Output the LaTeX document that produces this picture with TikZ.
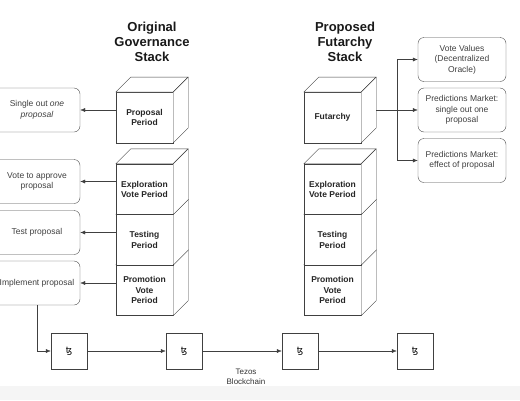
\documentclass[tikz,border=0pt]{standalone}
\usepackage{fontspec}
\setmainfont{Liberation Sans}
\newfontfamily\tezfont{DejaVu Sans}
\usetikzlibrary{positioning, arrows.meta, calc}

\begin{document}
\begin{tikzpicture}[
    x=1pt, y=-1pt,
    govbox/.style={draw=black!70, rounded corners=6pt, fill=white, align=center,
        minimum width=86pt, minimum height=44pt, inner sep=1pt,
        text=black!75, font=\fontsize{8.5}{10.5}\selectfont},
    cubefront/.style={draw=black!75, fill=white, align=center,
        minimum width=57pt, minimum height=50.5pt, inner sep=0pt,
        text=black!85, font=\fontsize{8.5}{10.5}\selectfont\bfseries},
    cubeface/.style={draw=black!75, fill=white, line join=round},
    chainblock/.style={draw=black!75, fill=white, minimum size=36pt, inner sep=0pt,
        font=\tezfont\fontsize{9}{10}\selectfont},
    stacktitle/.style={align=center, font=\fontsize{13}{15}\selectfont\bfseries, text=black!90},
    link/.style={draw=black!75, -{Latex[length=5pt, width=4pt]}}
]

\useasboundingbox (0,0) rectangle (520,400);
\fill[black!4] (0,386) rectangle (520,400);

% stack titles
\node[stacktitle] (origtitle) at (152,42) {Original\\Governance\\Stack};
\node[stacktitle] (futtitle) at (345,42) {Proposed\\Futarchy\\Stack};

% cubes: bottom one first so the upper front covers the lower top face
\foreach \n/\cx/\cy/\txt in {
    prom/144.5/290.25/{Promotion\\Vote\\Period},
    test/144.5/239.75/{Testing\\Period},
    expl/144.5/189.25/{Exploration\\Vote Period},
    prop/144.5/117.5/{Proposal\\Period},
    fprom/332.5/290.25/{Promotion\\Vote\\Period},
    ftest/332.5/239.75/{Testing\\Period},
    fexpl/332.5/189.25/{Exploration\\Vote Period},
    fut/332.5/117.5/{Futarchy}} {
    \node[cubefront] (\n) at (\cx,\cy) {\txt};
    \draw[cubeface] (\n.north west) -- ++(15,-15) -- ([shift={(15,-15)}]\n.north east)
        -- (\n.north east) -- cycle;
    \draw[cubeface] (\n.north east) -- ++(15,-15) -- ([shift={(15,-15)}]\n.south east)
        -- (\n.south east) -- cycle;
}

% what each period does
\node[govbox] (single) at (37,110) {Single out \textit{one}\\\textit{proposal}};
\node[govbox] (approve) at (37,181.5) {Vote to approve\\proposal};
\node[govbox] (testp) at (37,232.5) {Test proposal};
\node[govbox] (impl) at (37,283) {Implement proposal};

\draw[link] (prop.west |- single.east) -- (single.east);
\draw[link] (expl.west |- approve.east) -- (approve.east);
\draw[link] (test.west |- testp.east) -- (testp.east);
\draw[link] (prom.west |- impl.east) -- (impl.east);

% futarchy outputs
\node[govbox, minimum width=88pt] (votes) at (462,59.5) {Vote Values\\(Decentralized\\Oracle)};
\node[govbox, minimum width=88pt] (pmone) at (462,110) {Predictions Market:\\single out one\\proposal};
\node[govbox, minimum width=88pt] (pmeff) at (462,160.5) {Predictions Market:\\effect of proposal};

\coordinate (fork) at (397,110);
\draw[draw=black!75] ([xshift=15pt]fut.east |- pmone.west) -- (fork);
\draw[link] (fork) -- (pmone.west);
\draw[link] (fork) |- (votes.west);
\draw[link] (fork) |- (pmeff.west);

% blockchain
\foreach \n/\cx in {blka/69, blkb/184, blkc/300, blkd/415} {
    \node[chainblock] (\n) at (\cx,351) {ꜩ};
}
\draw[link] (impl.south) |- (blka.west);
\draw[link] (blka) -- (blkb);
\draw[link] (blkb) -- (blkc);
\draw[link] (blkc) -- (blkd);

\node[align=center, font=\fontsize{8}{10}\selectfont, text=black!80] (chainlabel)
    at (246,377) {Tezos\\Blockchain};

\end{tikzpicture}
\end{document}
